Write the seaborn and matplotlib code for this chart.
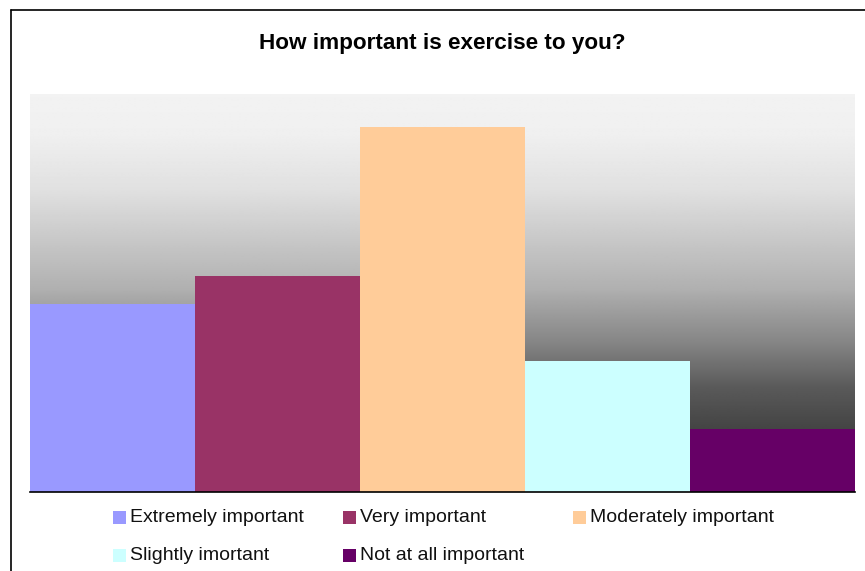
import numpy as np
import pandas as pd
import matplotlib
matplotlib.use("Agg")
import matplotlib.pyplot as plt
from matplotlib.patches import Rectangle
from matplotlib.lines import Line2D
import seaborn as sns

categories = ["Extremely important", "Very important", "Moderately important",
              "Slightly imortant", "Not at all important"]
values = [18.9, 21.7, 36.7, 13.2, 6.3]
colors = ["#9999FF", "#993366", "#FFCC99", "#CCFFFF", "#660066"]
title = "How important is exercise to you?"
y_max = 40

sns.set_theme(style="white")
plt.rcParams['font.family'] = ['Liberation Sans', 'DejaVu Sans']

W, H = 865, 571
fig = plt.figure(figsize=(W / 100, H / 100), dpi=100)
fig.patch.set_facecolor("white")

def fx(px):
    return px / W

def fy(py):
    return 1 - py / H

ax = fig.add_axes([fx(30), fy(492), fx(855) - fx(30), fy(94) - fy(492)])

df = pd.DataFrame({"category": categories, "value": values})
sns.barplot(data=df, x="category", y="value", hue="category",
            palette=dict(zip(categories, colors)), order=categories,
            hue_order=categories, width=1.0, saturation=1, dodge=False,
            legend=False, linewidth=0, ax=ax, zorder=2)

# gradient background (row 0 = top)
t = np.linspace(0, 1, 400)
tp = [0.0, 0.1, 0.24, 0.49, 0.62, 0.74, 0.84, 1.0]
vp = [0.95, 0.94, 0.88, 0.69, 0.53, 0.35, 0.27, 0.20]
g = np.interp(t, tp, vp)
img = np.repeat(g[:, None], 2, axis=1)
ax.imshow(img, cmap="gray", vmin=0, vmax=1, aspect="auto", origin="upper",
          extent=[-0.5, len(categories) - 0.5, 0, y_max], zorder=0,
          interpolation="bilinear")

ax.set_xlim(-0.5, len(categories) - 0.5)
ax.set_ylim(0, y_max)
ax.set_xticks([])
ax.set_yticks([])
ax.set_xlabel("")
ax.set_ylabel("")
for s in ["top", "left", "right"]:
    ax.spines[s].set_visible(False)
ax.spines["bottom"].set_color("black")
ax.spines["bottom"].set_linewidth(1.2)
ax.spines["bottom"].set_zorder(5)

# title
fig.text(fx(442), fy(43), title, ha="center", va="center",
         fontsize=16.2, fontweight="bold", color="black")

# outer frame
fig.add_artist(Line2D([fx(10.5), fx(10.5)], [fy(9.5), 0], color="black", lw=1.2))
fig.add_artist(Line2D([fx(10.5), 1], [fy(9.5), fy(9.5)], color="black", lw=1.2))

# legend
pos = [(113, 517), (343, 517), (573, 517), (113, 555), (343, 555)]
for (px, py), lab, c in zip(pos, categories, colors):
    fig.add_artist(Rectangle((fx(px), fy(py + 6.5)), fx(13), 13 / H,
                             facecolor=c, edgecolor="none"))
    fig.text(fx(px + 17), fy(py), lab, ha="left", va="center",
             fontsize=14, color="#111111")

fig.savefig("out.png", dpi=100, facecolor="white")
